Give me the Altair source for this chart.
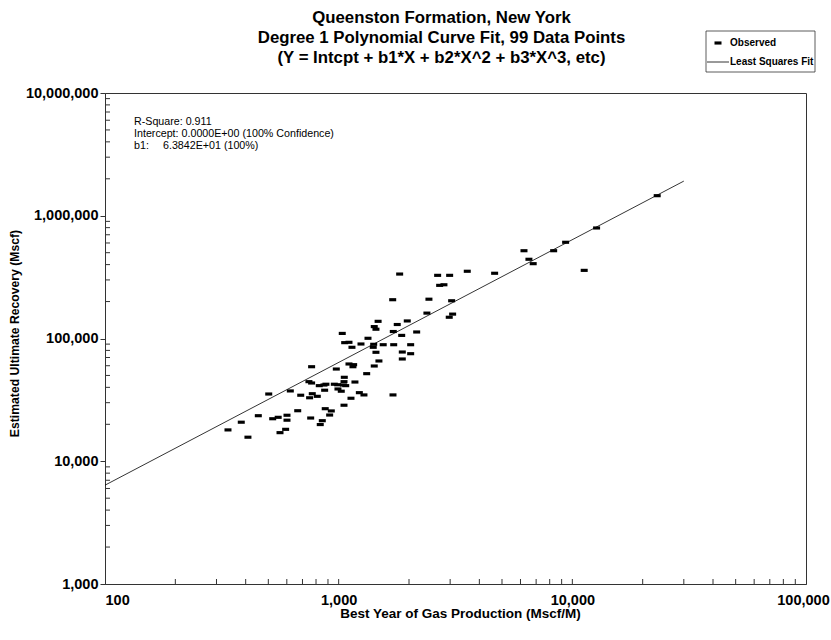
import altair as alt
import pandas as pd

# Observed data (Best year of gas production, Mscf/M) vs EUR (Mscf)
best_year = [1444, 1872, 2033, 1872, 1487, 766, 1107, 1159, 1151, 977,
             1420, 1318, 1057, 746, 766, 1054, 1174, 826, 865, 882,
             958, 990, 1072, 1048, 993, 1026, 871, 502, 621, 688,
             771, 810, 751, 1226, 1283, 1708, 1129, 1054, 876, 930,
             915, 668, 453, 522, 551, 601, 601, 759, 851, 834,
             383, 336, 409, 561, 593,
             6210, 8320, 6520, 6800, 1824, 2652, 2985, 3551, 4650, 2705,
             2822, 1703, 2434, 3044, 2386, 3074, 2973, 1475, 1781, 1966,
             1713, 2157, 1861, 1551, 1720, 2033,
             23080, 12700, 9360, 11240,
             1420, 1444, 1036, 1335, 1061, 1107, 1140, 1246, 1412, 1406]
eur = [77200, 77600, 75200, 68100, 65600, 58900, 62000, 61200, 58900, 56400,
       59700, 51700, 48300, 44500, 43400, 44500, 44200, 41300, 41800, 42400,
       42400, 42000, 41300, 41800, 38800, 37200, 37900, 35300, 37400, 34500,
       35500, 33800, 32900, 36200, 34700, 34700, 32600, 28600, 26800, 25700,
       23800, 25800, 23500, 22200, 22800, 23700, 21600, 22500, 21400, 19900,
       20800, 18000, 15700, 17100, 18200,
       519000, 519000, 442000, 407000, 335000, 327000, 327000, 353000, 340000, 271000,
       274000, 207000, 209000, 203000, 161000, 158000, 149000, 138000, 130000, 139000,
       114000, 113000, 106000, 89000, 89000, 89000,
       1457000, 795000, 608000, 359000,
       125000, 119000, 110000, 100400, 92500, 93100, 84800, 90200, 89700, 84800]

# Least squares fit line endpoints (Y = 63.842 * X)
fit_x = [100, 30000]
fit_y = [6384, 1915260]

x_major = [100, 1000, 10000, 100000]
y_major = [1000, 10000, 100000, 1000000, 10000000]
minor_mult = [2, 3, 4, 5, 6, 7, 8, 9]
x_minor = [m * d for d in [100, 1000, 10000] for m in minor_mult]
y_minor = [m * d for d in [1000, 10000, 100000, 1000000] for m in minor_mult]

title_lines = ["Queenston Formation, New York",
               "Degree 1 Polynomial Curve Fit, 99 Data Points",
               "(Y = Intcpt + b1*X + b2*X^2 + b3*X^3, etc)"]

W, H = 701, 491
FONT = "Liberation Sans, Arial, sans-serif"
DASH = "M-1,-0.45H1V0.45H-1Z"

xscale = alt.Scale(type="log", domain=[100, 100000], nice=False)
yscale = alt.Scale(type="log", domain=[1000, 10000000], nice=False)

obs = pd.DataFrame({"x": best_year, "y": eur})
fit = pd.DataFrame({"x": fit_x, "y": fit_y})

points = alt.Chart(obs).mark_point(
    shape=DASH, filled=True, size=49, color="black", opacity=1, strokeWidth=0
).encode(
    x=alt.X("x:Q", scale=xscale, axis=alt.Axis(
        values=x_major, format=",", ticks=False, labelPadding=9,
        labelFont=FONT, labelFontSize=14.5, labelFontWeight="bold", labelColor="black",
        labelAlign={"condition": {"test": "datum.value <= 100", "value": "left"}, "value": "center"},
        labelOffset={"condition": {"test": "datum.value >= 100000", "value": -3}, "value": 0},
        domainColor="#333", grid=False,
        title="Best Year of Gas Production (Mscf/M)", titleFont=FONT, titleFontSize=13.5,
        titleFontWeight="bold", titleColor="black", titleX=355, titleY=29,
        titleBaseline="middle", titleAlign="center")),
    y=alt.Y("y:Q", scale=yscale, axis=alt.Axis(
        values=y_major, format=",", tickSize=5, tickColor="#333", labelPadding=2,
        labelFont=FONT, labelFontSize=14.5, labelFontWeight="bold", labelColor="black",
        domainColor="#333", grid=False,
        title="Estimated Ultimate Recovery (Mscf)", titleFont=FONT, titleFontSize=12.2,
        titleFontWeight="bold", titleColor="black", titleX=-91, titleY=240,
        titleAngle=270, titleBaseline="middle", titleAlign="center")),
)

fit_line = alt.Chart(fit).mark_line(color="black", strokeWidth=0.8).encode(
    x=alt.X("x:Q", scale=xscale, axis=None),
    y=alt.Y("y:Q", scale=yscale, axis=None),
)

xt = alt.Chart(pd.DataFrame({"v": x_minor + x_major[1:-1]})).mark_rule(
    color="#333", strokeWidth=1).encode(
    x=alt.X("v:Q", scale=xscale, axis=None), y=alt.value(H), y2=alt.value(H - 5))

yt = alt.Chart(pd.DataFrame({"v": y_minor})).mark_rule(
    color="#333", strokeWidth=1).encode(
    y=alt.Y("v:Q", scale=yscale, axis=None), x=alt.value(0), x2=alt.value(5))

def txt(s, x, y, size=10.7, weight="normal", align="left", baseline="alphabetic"):
    return alt.Chart(pd.DataFrame({"a": [0]})).mark_text(
        font=FONT, fontSize=size, fontWeight=weight, align=align, baseline=baseline,
        color="black").encode(x=alt.value(x), y=alt.value(y), text=alt.value(s))

ann = [
    txt("R-Square: 0.911", 29, 31.7),
    txt("Intercept: 0.0000E+00 (100% Confidence)", 29, 43.7),
    txt("b1:", 29, 55.5),
    txt("6.3842E+01 (100%)", 58, 55.5),
]

leg_box = alt.Chart(pd.DataFrame({"a": [0]})).mark_rect(
    fill="white", stroke="#333", strokeWidth=0.8).encode(
    x=alt.value(601), x2=alt.value(710), y=alt.value(-62), y2=alt.value(-21))
leg_pt = alt.Chart(pd.DataFrame({"a": [0]})).mark_point(
    shape=DASH, filled=True, size=49, color="black", opacity=1, strokeWidth=0).encode(
    x=alt.value(613), y=alt.value(-50))
leg_ln = alt.Chart(pd.DataFrame({"a": [0]})).mark_rule(
    color="black", strokeWidth=0.8).encode(
    x=alt.value(602), x2=alt.value(624), y=alt.value(-31))
leg_t1 = txt("Observed", 625, -50, size=10, weight="bold", baseline="middle")
leg_t2 = txt("Least Squares Fit", 625, -31, size=10, weight="bold", baseline="middle")

chart = alt.layer(
    points, fit_line, xt, yt, *ann, leg_box, leg_pt, leg_ln, leg_t1, leg_t2
).resolve_axis(x="independent", y="independent").properties(
    width=W, height=H, background="white",
    title=alt.TitleParams(text=title_lines, font=FONT, fontSize=16.8, fontWeight="bold",
                          color="black", anchor="middle", frame="group", dx=-14,
                          offset=-36, lineHeight=20),
    autosize=alt.AutoSizeParams(type="none"),
    padding={"left": 105, "top": 93, "right": 25, "bottom": 56},
).configure_view(stroke="#333", strokeWidth=1)

chart.save("out.html", embed_options={"renderer": "svg", "actions": False})
